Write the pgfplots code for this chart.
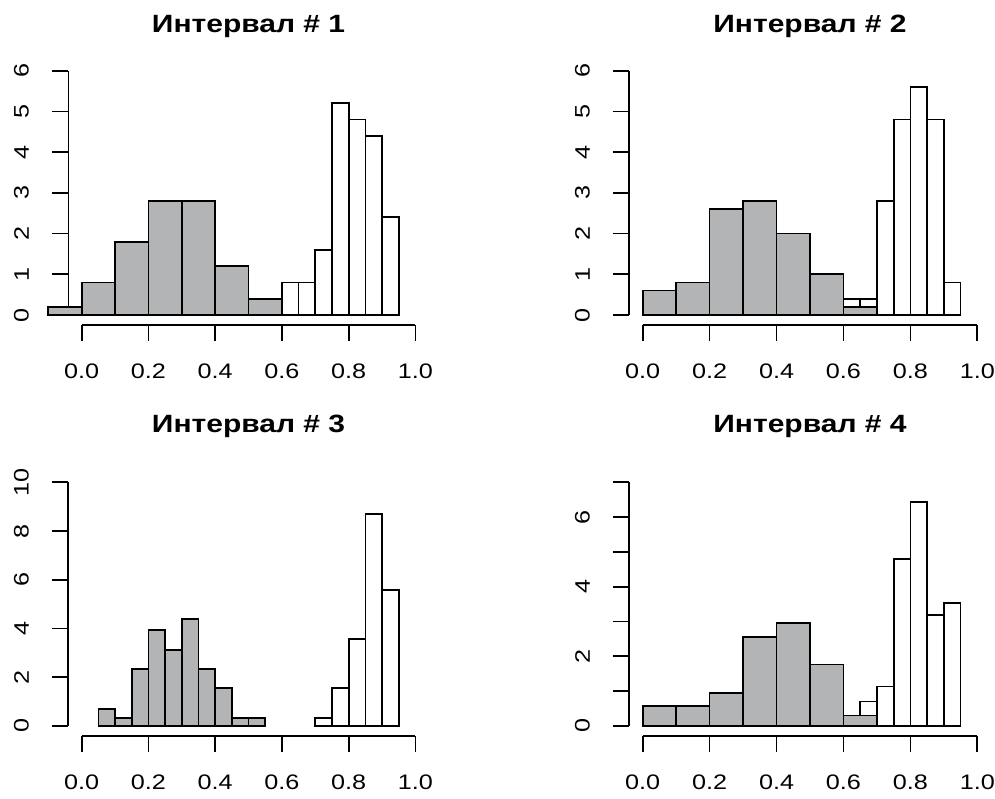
\documentclass[border=0pt]{standalone}
\usepackage{fontspec}
\setmainfont{Liberation Sans}[FakeStretch=1.2]
\usepackage{pgfplots}
\pgfplotsset{compat=1.18}
\definecolor{histgray}{RGB}{179,180,182}
\pgfplotsset{
  rhist/.style={
    scale only axis, clip=false,
    axis x line*=bottom, axis y line*=left,
    xmin=-0.04, xmax=1.04,
    xtick={0,0.2,0.4,0.6,0.8,1},
    xticklabels={0.0,0.2,0.4,0.6,0.8,1.0},
    xtick align=outside, ytick align=outside,
    major tick length=16pt,
    tick style={black, line width=1.7pt},
    axis line style={black, line width=1.7pt},
    tick label style={font=\fontsize{21}{25}\selectfont},
    yticklabel style={rotate=90, anchor=south},
    yticklabel shift=20pt,
    xticklabel shift=20pt,
    title style={font=\bfseries\fontsize{25}{30}\selectfont, at={(axis description cs:0.5,1)}, anchor=base},
  },
  wbar/.style={ybar interval, fill=white, draw=black, line width=1.7pt},
  gbar/.style={ybar interval, fill=histgray, draw=black, line width=1.7pt},
}
\begin{document}
\begin{tikzpicture}
\useasboundingbox (0,0) rectangle (995pt,799pt);
% Panel 1
\begin{axis}[rhist, at={(68.35pt,474.2pt)}, anchor=south west,
  width=360.4pt, height=263.9pt, ymin=-0.24, ymax=6.24,
  ytick={0,1,2,3,4,5,6}, yticklabels={0,1,2,3,4,5,6},
  x axis line style={-, shorten <=13.35pt, shorten >=13.35pt},
  y axis line style={-, shorten <=9.77pt, shorten >=9.77pt},
  title={Интервал \# 1}, title style={yshift=21.9pt}]
\addplot[wbar] coordinates {(0.6,0.8) (0.65,0.8) (0.7,1.6) (0.75,5.2) (0.8,4.8) (0.85,4.4) (0.9,2.4) (0.95,0)};
\addplot[gbar] coordinates {(-0.1,0.2) (0,0.8) (0.1,1.8) (0.2,2.8) (0.3,2.8) (0.4,1.2) (0.5,0.4) (0.6,0)};
\end{axis}
% Panel 2
\begin{axis}[rhist, at={(629.3pt,474.2pt)}, anchor=south west,
  width=361.4pt, height=263.9pt, ymin=-0.24, ymax=6.24,
  ytick={0,1,2,3,4,5,6}, yticklabels={0,1,2,3,4,5,6},
  x axis line style={-, shorten <=13.39pt, shorten >=13.39pt},
  y axis line style={-, shorten <=9.77pt, shorten >=9.77pt},
  title={Интервал \# 2}, title style={yshift=21.9pt}]
\addplot[wbar] coordinates {(0.6,0.4) (0.65,0.4) (0.7,2.8) (0.75,4.8) (0.8,5.6) (0.85,4.8) (0.9,0.8) (0.95,0)};
\addplot[gbar] coordinates {(0,0.6) (0.1,0.8) (0.2,2.6) (0.3,2.8) (0.4,2.0) (0.5,1.0) (0.6,0.2) (0.7,0)};
\end{axis}
% Panel 3
\begin{axis}[rhist, at={(68.35pt,63.3pt)}, anchor=south west,
  width=360.4pt, height=263.1pt, ymin=-0.4, ymax=10.4,
  ytick={0,2,4,6,8,10}, yticklabels={0,2,4,6,8,10},
  x axis line style={-, shorten <=13.35pt, shorten >=13.35pt},
  y axis line style={-, shorten <=9.74pt, shorten >=9.74pt},
  title={Интервал \# 3}, title style={yshift=33.6pt}]
\addplot[wbar] coordinates {(0.7,0.33) (0.75,1.55) (0.8,3.57) (0.85,8.71) (0.9,5.58) (0.95,0)};
\addplot[gbar] coordinates {(0.05,0.71) (0.1,0.33) (0.15,2.33) (0.2,3.95) (0.25,3.12) (0.3,4.40) (0.35,2.33) (0.4,1.55) (0.45,0.33) (0.5,0.33) (0.55,0)};
\end{axis}
% Panel 4
\begin{axis}[rhist, at={(629.3pt,63.3pt)}, anchor=south west,
  width=361.4pt, height=263.1pt, ymin=-0.28, ymax=7.28,
  ytick={0,1,2,3,4,5,6,7}, yticklabels={0,,2,,4,,6,},
  x axis line style={-, shorten <=13.39pt, shorten >=13.39pt},
  y axis line style={-, shorten <=9.74pt, shorten >=9.74pt},
  title={Интервал \# 4}, title style={yshift=33.6pt}]
\addplot[wbar] coordinates {(0.65,0.70) (0.7,1.13) (0.75,4.79) (0.8,6.43) (0.85,3.18) (0.9,3.54) (0.95,0)};
\addplot[gbar] coordinates {(0,0.58) (0.1,0.58) (0.2,0.94) (0.3,2.55) (0.4,2.95) (0.5,1.77) (0.6,0.30) (0.7,0)};
\end{axis}
\end{tikzpicture}
\end{document}
